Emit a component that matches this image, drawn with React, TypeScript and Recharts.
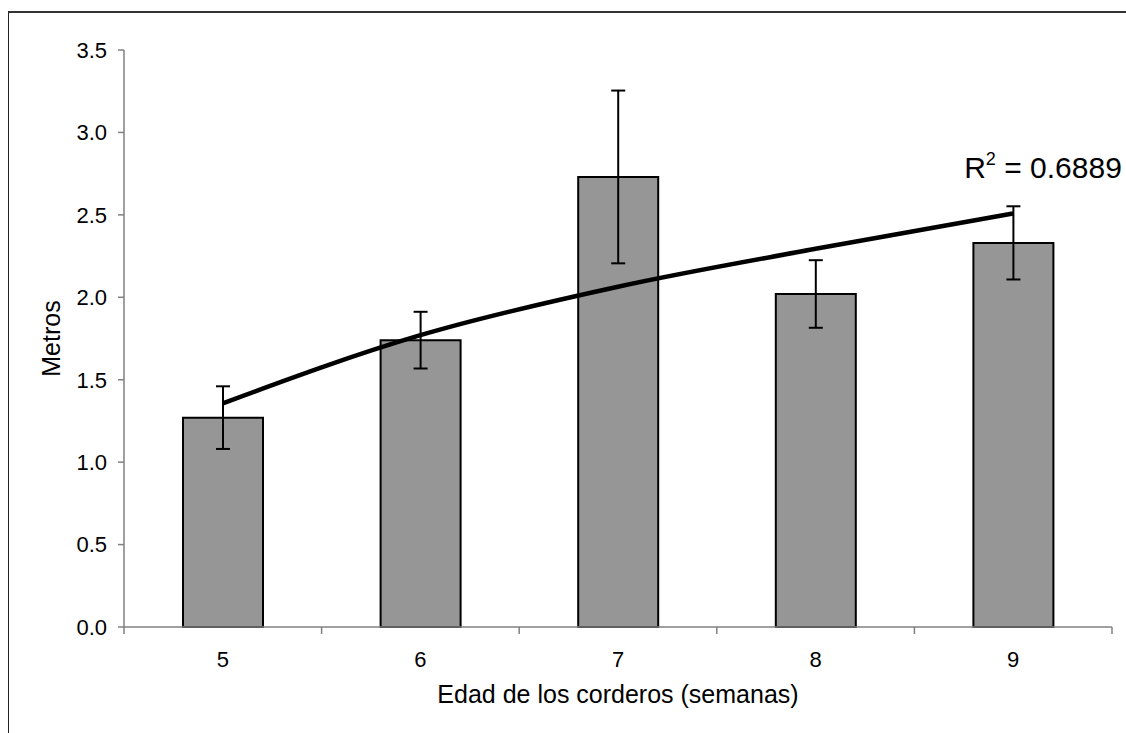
import { ComposedChart, Bar, Line, XAxis, YAxis, ErrorBar, LabelList } from 'recharts'

const weeks = ['5', '6', '7', '8', '9']
const meters = [1.27, 1.74, 2.73, 2.02, 2.33]
const meterErrors = [0.19, 0.172, 0.524, 0.205, 0.222]
const trendValues = [1.357, 1.77, 2.064, 2.294, 2.509]
const yTicks = [0, 0.5, 1, 1.5, 2, 2.5, 3, 3.5]
const r2Text = '0.6889'

const data = weeks.map((w, i) => ({
  week: w,
  meters: meters[i],
  err: meterErrors[i],
  trend: trendValues[i],
}))

const FONT = '"Liberation Sans", Arial, sans-serif'
const TICK_GAP = 24

const R2Label = (props: any) => {
  const { x, y, index } = props
  if (index !== weeks.length - 1) return null
  return (
    <text x={x - 49} y={y - 35} fontSize={30} fill="#000" fontFamily={FONT}>
      R
      <tspan fontSize={18} dy={-13}>2</tspan>
      <tspan dy={13}>{` = ${r2Text}`}</tspan>
    </text>
  )
}

// category label plus tick marks on the band edges, like Excel
const WeekTick = (props: any) => {
  const { x, y, payload, index } = props
  const half = payload?.offset ?? 0
  const axisY = y - TICK_GAP
  const tickStyle = { stroke: '#808080', strokeWidth: 1.5 }
  return (
    <g>
      {half > 0 && <line x1={x - half} x2={x - half} y1={axisY} y2={axisY + 7} {...tickStyle} />}
      {half > 0 && index === weeks.length - 1 && (
        <line x1={x + half} x2={x + half} y1={axisY} y2={axisY + 7} {...tickStyle} />
      )}
      <text x={x} y={y} dy="0.71em" textAnchor="middle" fontSize={22} fill="#000" fontFamily={FONT}>
        {payload.value}
      </text>
    </g>
  )
}

export default function App() {
  return (
    <div
      style={{
        position: 'fixed',
        left: 0,
        top: 0,
        width: 1126,
        height: 733,
        overflow: 'hidden',
        background: '#fff',
        fontFamily: FONT,
      }}
    >
      <div
        style={{
          position: 'absolute',
          left: 8,
          top: 11,
          width: 1200,
          height: 800,
          borderTop: '2px solid #333',
          borderLeft: '1px solid #222',
        }}
      />
      <div style={{ position: 'absolute', left: 0, top: 0 }}>
        <ComposedChart
          width={1126}
          height={733}
          data={data}
          margin={{ top: 50, right: 14, left: 0, bottom: 0 }}
          barSize={80}
        >
          <XAxis
            dataKey="week"
            height={106}
            tickLine={false}
            tickSize={0}
            tickMargin={TICK_GAP}
            axisLine={{ stroke: '#808080', strokeWidth: 1.5 }}
            tick={<WeekTick />}
            label={{
              value: 'Edad de los corderos (semanas)',
              position: 'insideBottom',
              offset: 30,
              fontSize: 25,
              fill: '#000',
              fontFamily: FONT,
            }}
          />
          <YAxis
            width={124}
            domain={[0, 3.5]}
            ticks={yTicks}
            interval={0}
            tickFormatter={(v: number) => v.toFixed(1)}
            tickSize={6}
            tickMargin={11}
            axisLine={{ stroke: '#808080', strokeWidth: 1.5 }}
            tickLine={{ stroke: '#808080', strokeWidth: 1.5 }}
            tick={{ fontSize: 22, fill: '#000', fontFamily: FONT }}
            label={{
              value: 'Metros',
              angle: -90,
              position: 'center',
              dx: -11,
              fontSize: 25,
              fill: '#000',
              fontFamily: FONT,
            }}
          />
          <Bar
            dataKey="meters"
            fill="#969696"
            stroke="#000"
            strokeWidth={2}
            isAnimationActive={false}
          >
            <ErrorBar dataKey="err" width={7} stroke="#000" strokeWidth={2} />
          </Bar>
          <Line
            dataKey="trend"
            type="monotone"
            stroke="#000"
            strokeWidth={4.5}
            dot={false}
            activeDot={false}
            isAnimationActive={false}
          >
            <LabelList dataKey="trend" content={<R2Label />} />
          </Line>
        </ComposedChart>
      </div>
    </div>
  )
}
